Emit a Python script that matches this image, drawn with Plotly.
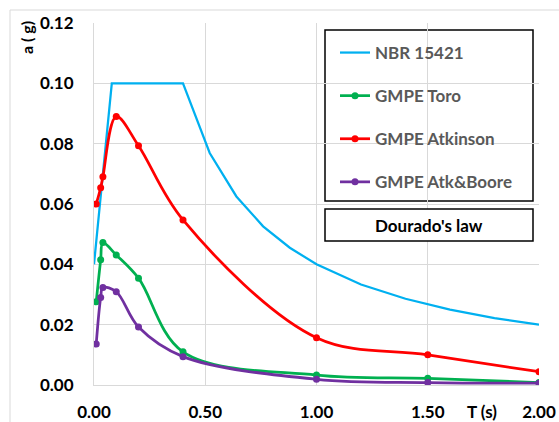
import plotly.graph_objects as go

# ---- data ----
nbr_T = [0.0, 0.08, 0.40, 0.52, 0.64, 0.76, 0.88, 1.00, 1.20, 1.40, 1.60, 1.80, 2.00]
nbr_a = [0.040, 0.100, 0.100, 0.0769, 0.0625, 0.0526, 0.0455, 0.0400, 0.0333, 0.0286, 0.0250, 0.0222, 0.0200]

gmpe_T = [0.01, 0.03, 0.04, 0.10, 0.20, 0.40, 1.00, 1.50, 2.00]
toro_a = [0.0276, 0.0415, 0.0472, 0.0431, 0.0354, 0.0110, 0.0033, 0.0022, 0.0008]
atk_a = [0.0600, 0.0654, 0.0690, 0.0890, 0.0793, 0.0547, 0.0157, 0.0100, 0.0044]
atkb_a = [0.0136, 0.0290, 0.0323, 0.0309, 0.0192, 0.0094, 0.0019, 0.0008, 0.0006]

x_ticks = [0.0, 0.5, 1.0, 1.5, 2.0]
y_ticks = [0.00, 0.02, 0.04, 0.06, 0.08, 0.10, 0.12]

FONT = "Lato"
W, H = 559, 422
L, R, T, B = 94, 20, 23, 37
pw, ph = W - L - R, H - T - B


def px(x):
    return (x - L) / pw


def py(y):
    return (H - B - y) / ph


fig = go.Figure()
fig.add_trace(go.Scatter(x=nbr_T, y=nbr_a, mode="lines", name="NBR 15421",
                         line=dict(color="#00B0F0", width=2.25), legendgroup="a"))
for name, vals, col, grp in [("GMPE Toro", toro_a, "#00B050", "b"),
                             ("GMPE Atkinson", atk_a, "#FF0000", "c"),
                             ("GMPE Atk&Boore", atkb_a, "#7030A0", "d")]:
    fig.add_trace(go.Scatter(x=gmpe_T, y=vals, mode="lines+markers", name=name,
                             line=dict(color=col, width=2.75, shape="spline", smoothing=1),
                             marker=dict(color=col, size=7), legendgroup=grp))

tickfont = dict(family=FONT, size=17, color="black", weight="bold")
fig.update_layout(
    width=W, height=H,
    margin=dict(l=L, r=R, t=T, b=B, autoexpand=False),
    paper_bgcolor="white", plot_bgcolor="white",
    font=dict(family=FONT, size=15, color="black", weight="bold"),
    xaxis=dict(range=[0, 2], tickvals=x_ticks, tickformat=".2f", showgrid=True,
               gridcolor="#D9D9D9", gridwidth=1, zeroline=False, showline=True,
               linecolor="#D9D9D9", linewidth=1, ticks="", ticklabelstandoff=12,
               automargin=False, tickfont=tickfont),
    yaxis=dict(range=[0, 0.12], tickvals=y_ticks, tickformat=".2f", showgrid=True,
               gridcolor="#D9D9D9", gridwidth=1, zeroline=False, showline=True,
               linecolor="#D9D9D9", linewidth=1, ticks="", ticklabelstandoff=16,
               automargin=False, tickfont=tickfont),
    showlegend=True,
    legend=dict(x=px(335), y=py(35), xanchor="left", yanchor="top",
                bgcolor="rgba(0,0,0,0)", borderwidth=0,
                font=dict(family=FONT, size=17, color="#595959", weight="bold"),
                tracegroupgap=18, itemwidth=30),
    shapes=[
        dict(type="rect", xref="paper", yref="paper", x0=px(10), x1=px(600),
             y0=py(440), y1=py(10), line=dict(color="#D9D9D9", width=1),
             fillcolor="rgba(0,0,0,0)", layer="below"),
        dict(type="rect", xref="paper", yref="paper", x0=px(325), x1=px(533),
             y0=py(201), y1=py(30), line=dict(color="black", width=1.5),
             fillcolor="white", layer="below"),
        dict(type="rect", xref="paper", yref="paper", x0=px(325), x1=px(533),
             y0=py(241), y1=py(209), line=dict(color="black", width=1.5),
             fillcolor="white"),
    ],
    annotations=[
        dict(text="Dourado's law", xref="paper", yref="paper", x=px(429), y=py(225),
             xanchor="center", yanchor="middle",
             showarrow=False, font=dict(family=FONT, size=17, color="black", weight="bold")),
        dict(text="T (s)", xref="paper", yref="paper", x=px(482), y=py(411),
             xanchor="center", yanchor="middle",
             showarrow=False, font=dict(family=FONT, size=17, color="black", weight="bold")),
        dict(text="a ( g)", xref="paper", yref="paper", x=px(27), y=py(38), textangle=-90,
             xanchor="center", yanchor="middle",
             showarrow=False, font=dict(family=FONT, size=16, color="black", weight="bold")),
    ],
)

fig.write_html("out.html", config={"displayModeBar": False},
               post_script="document.body.style.margin='0px';document.body.style.overflow='hidden';")
